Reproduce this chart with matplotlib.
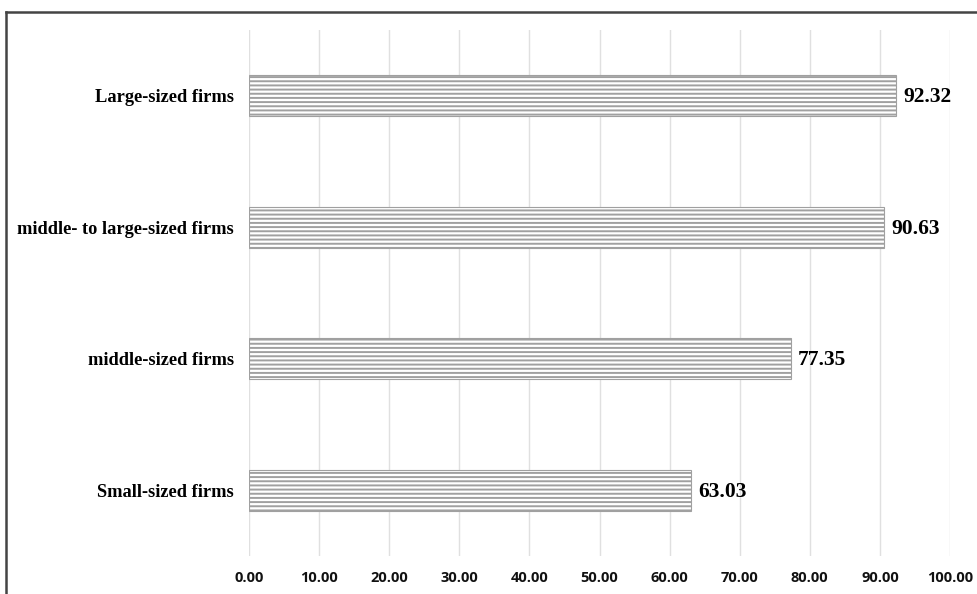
import matplotlib
matplotlib.use("Agg")
import matplotlib.pyplot as plt
from matplotlib.lines import Line2D

categories = ["Small-sized firms", "middle-sized firms",
              "middle- to large-sized firms", "Large-sized firms"]
values = [63.03, 77.35, 90.63, 92.32]
x_ticks = [0, 10, 20, 30, 40, 50, 60, 70, 80, 90, 100]

plt.rcParams["hatch.linewidth"] = 1.4

fig = plt.figure(figsize=(9.77, 5.94), dpi=100)
ax = fig.add_axes([249 / 977, 1 - 556 / 594, (950 - 249) / 977, (556 - 30) / 594])

ypos = list(range(len(categories)))
ax.barh(ypos, values, height=0.31, color="white",
        edgecolor="#a0a0a0", linewidth=0.8, hatch="----", zorder=2)

for y, v in zip(ypos, values):
    ax.annotate(f"{v:.2f}", xy=(v, y), xytext=(5, -1), textcoords="offset points",
                va="center", ha="left", fontsize=15.5, fontweight="bold",
                family="Liberation Serif", color="#000000")

ax.set_xlim(0, 100)
ax.set_ylim(-0.5, 3.5)
ax.set_xticks(x_ticks)
ax.set_xticklabels([f"{t:.2f}" for t in x_ticks], family="Open Sans",
                   fontweight="bold", fontsize=10.5, color="#111111")
ax.set_yticks(ypos)
ax.set_yticklabels(categories, family="Liberation Serif", fontweight="bold",
                   fontsize=13.2, color="#000000")
ax.tick_params(axis="both", length=0)
ax.tick_params(axis="x", pad=11)
ax.tick_params(axis="y", pad=11)
ax.grid(axis="x", color="#e0e0e0", linewidth=1, zorder=0)
ax.set_axisbelow(True)
for s in ax.spines.values():
    s.set_visible(False)

# outer frame (top and left edges)
fig.add_artist(Line2D([6 / 977, 1.0], [1 - 12 / 594, 1 - 12 / 594],
                      transform=fig.transFigure, color="#444444", linewidth=1.8))
fig.add_artist(Line2D([6 / 977, 6 / 977], [0, 1 - 12 / 594],
                      transform=fig.transFigure, color="#444444", linewidth=1.8))

fig.savefig("out.png", dpi=100)
